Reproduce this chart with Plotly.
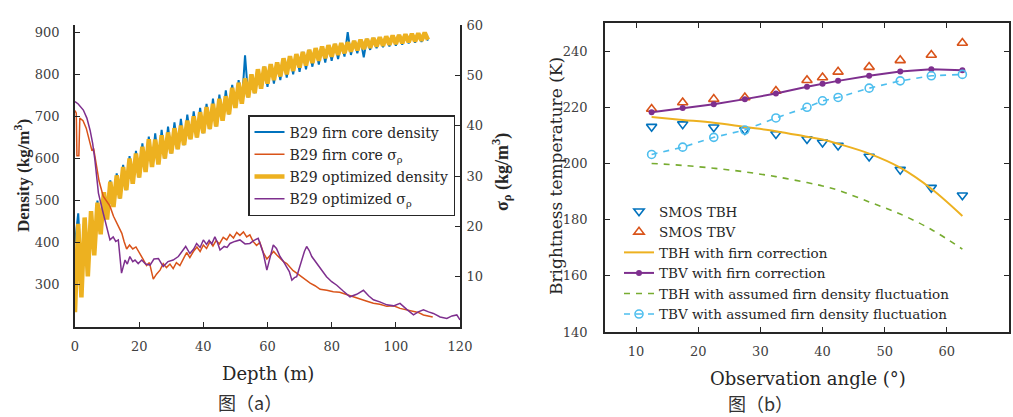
import plotly.graph_objects as go

# ---------------- Panel (a) data ----------------
depth = list(range(0, 111))
core_density = [
    400, 470, 330, 455, 350, 470, 390, 500, 430, 515,
    470, 548, 490, 565, 505, 585, 525, 606, 540, 618,
    555, 636, 568, 652, 580, 660, 588, 668, 600, 676,
    612, 686, 622, 694, 632, 704, 646, 712, 650, 720,
    660, 730, 670, 742, 676, 752, 690, 762, 705, 775,
    720, 786, 730, 845, 745, 800, 755, 812, 766, 818,
    770, 824, 778, 828, 786, 838, 792, 843, 800, 848,
    806, 853, 812, 858, 818, 862, 823, 866, 828, 869,
    832, 872, 836, 874, 842, 900, 846, 879, 850, 882,
    840, 884, 858, 886, 862, 888, 864, 890, 866, 892,
    868, 893, 870, 895, 873, 896, 875, 897, 877, 899, 880,
]
opt_density = [
    235, 445, 270, 460, 320, 475, 370, 495, 420, 520,
    455, 545, 485, 560, 505, 580, 525, 600, 540, 612,
    555, 628, 568, 646, 580, 645, 586, 655, 600, 662,
    612, 672, 622, 678, 632, 690, 646, 700, 650, 710,
    660, 722, 670, 730, 676, 742, 690, 748, 705, 768,
    720, 780, 730, 790, 745, 800, 755, 812, 766, 818,
    778, 824, 786, 828, 795, 838, 800, 843, 808, 848,
    816, 853, 821, 858, 827, 862, 832, 866, 838, 869,
    842, 872, 846, 874, 850, 876, 854, 879, 857, 882,
    860, 884, 863, 886, 866, 888, 868, 890, 870, 892,
    872, 893, 874, 895, 876, 896, 878, 897, 880, 899, 882,
]
core_sigma_depth = [
    0, 0.4, 0.6, 1.2, 1.5, 2.5, 3.5, 4.5, 5.3, 5.8,
    6.5, 7.5, 8.8, 9.8, 10.9, 12, 13, 14, 14.6, 15.3,
    16.1, 17, 18, 19, 20.3, 21.2, 22.3, 23.2, 24.4, 25.4,
    26.5, 27.5, 28.5, 29.6, 30.6, 31.6, 32.7, 33.7, 34.8, 35.8,
    36.9, 38, 39, 40, 41, 42.1, 43, 44, 45, 46.2,
    47.3, 48.3, 49.4, 50.4, 51.4, 52.5, 53.5, 54.5, 55.5, 56.6,
    57.6, 58.7, 59.8, 60.8, 61.9, 62.9, 64, 65, 66, 67,
    68, 69.1, 70.5, 72, 73.3, 74.8, 76.4, 78.5, 80.5, 82.5,
    84.7, 86.7, 88.8, 91, 93, 95, 97.2, 99.3, 101.3, 103.4,
    105.5, 107, 108.6, 110, 111.5,
]
core_sigma = [
    43, 42.5, 34, 34, 41.5, 41, 39.5, 37, 35, 35.5,
    32.5, 29, 26, 25, 24, 22, 20.6, 19.5, 18.6, 17,
    15.5, 16.3, 15.5, 15.9, 14.6, 13.5, 12.2, 12.8, 9.5, 10.5,
    11.3, 12.6, 11.8, 12.5, 11.6, 12.8, 12.2, 13.5, 14.8, 13.8,
    15.0, 15.9, 15.0, 16.3, 15.6, 17.0, 16.1, 17.2, 16.5, 17.8,
    17.3, 18.4, 17.7, 18.8, 18.2, 18.9, 17.9, 18.3, 17.0, 16.2,
    16.8, 14.8, 13.5, 14.2, 15.0, 14.3, 13.6, 13.0, 12.6, 11.8,
    11.2, 10.7, 10.0, 9.2, 8.7, 8.2, 7.5, 7.3, 7.0, 6.9,
    6.4, 6.0, 5.5, 5.1, 4.7, 4.5, 4.1, 4.2, 3.7, 3.4,
    3.0, 2.9, 2.4, 2.2, 2.0,
]
opt_sigma_depth = [
    0, 1, 2.6, 3.7, 4.7, 5.5, 6.2, 7.3, 8.8, 9.9,
    10.9, 11.9, 12.7, 13.5, 14.5, 15.6, 16.3, 17.1, 18, 18.7,
    19.7, 20.8, 22, 23.4, 24.6, 26, 27.5, 29, 30.6, 32.2,
    33.8, 34.5, 35.8, 37, 37.9, 39, 40, 41, 41.8, 42.6,
    43.6, 44.4, 45.2, 46.5, 47.4, 48.3, 49.8, 51.4, 53, 54.5,
    55.8, 57.1, 58, 58.7, 59.8, 60.8, 61.8, 62.8, 63.9, 65,
    66, 66.8, 67.6, 68.4, 69.1, 70.5, 71.5, 72.2, 73, 73.8,
    75.3, 76.8, 78.4, 80, 81.6, 83.5, 85.7, 87.8, 89.9, 91.5,
    93, 95, 97.2, 99.3, 101.3, 103.4, 105.5, 107, 108.6, 110.2,
    111.7, 113.8, 115.9, 117.5, 119, 120,
]
opt_sigma = [
    44.8, 44.3, 43.1, 41.5, 39.1, 36.5, 33.2, 26.6, 22.6, 20,
    17.3, 17.9, 17.0, 17.3, 10.7, 13.3, 12.5, 14, 13.0, 13.3,
    12.6, 13.3, 12.5, 12.3, 13.5, 13.6, 12.0, 13.0, 13.3, 14.0,
    15.3, 16.0, 14.6, 15.5, 16.6, 15.8, 17.3, 16.4, 17.2, 16.5,
    17.9, 16.8, 15.3, 16.0, 15.8, 16.6, 17.0, 17.3, 16.5, 16.6,
    17.2, 17.6, 16.0, 14.6, 11.3, 14.0, 16.3, 15.6, 14.0, 13.0,
    12.0, 11.0, 9.3, 9.8, 10.0, 13.0, 15.0, 16.0, 15.2, 14.0,
    12.7, 11.5, 10.0, 9.0, 8.3, 7.2, 6.0, 6.5, 7.3, 6.2,
    5.4, 5.0, 4.4, 4.2, 4.7, 3.5, 2.4, 3.0, 3.4, 3.0,
    2.7, 2.0, 1.7, 2.2, 2.4, 1.4,
]

# ---------------- Panel (b) data ----------------
angles = [12.5, 17.5, 22.5, 27.5, 32.5, 37.5, 40, 42.5, 47.5, 52.5, 57.5, 62.5]
smos_tbh = [213.1, 214.0, 212.9, 211.9, 210.5, 208.7, 207.5, 206.4, 202.5, 197.8, 191.4, 188.7]
smos_tbv = [219.4, 221.7, 222.9, 223.5, 225.8, 229.6, 230.6, 232.6, 234.3, 236.7, 238.6, 242.9]
tbh_firn = [216.5, 215.5, 214.5, 213.0, 211.5, 209.5, 208.5, 207.0, 203.5, 198.5, 191.0, 181.3]
tbv_firn = [218.2, 219.7, 221.1, 222.9, 224.9, 227.3, 228.4, 229.4, 231.2, 232.7, 233.5, 233.2]
tbh_fluct = [200.0, 199.3, 198.3, 197.0, 195.3, 193.2, 192.0, 190.5, 186.3, 182.0, 176.5, 169.5]
tbv_fluct = [203.2, 205.8, 209.3, 211.9, 216.2, 220.0, 222.3, 223.5, 226.8, 229.4, 231.2, 231.7]

left_yticks = [300, 400, 500, 600, 700, 800, 900]
sigma_ticks = [10, 20, 30, 40, 50, 60]
depth_ticks = [0, 20, 40, 60, 80, 100, 120]
angle_ticks = [10, 20, 30, 40, 50, 60, 70]
tb_ticks = [140, 160, 180, 200, 220, 240]

BLUE = "#0072BD"
ORANGE = "#D95319"
YELLOW = "#EDB120"
PURPLE = "#7E2F8E"
GREEN = "#77AC30"
LBLUE = "#4DBEEE"
SERIF = "Liberation Serif"
WIDE = "DejaVu Serif"
AX = "#262626"

W, H = 1013, 417

fig = go.Figure()

# Panel (a)
fig.add_trace(go.Scatter(x=depth, y=core_density, mode="lines", name="B29 firn core density",
                         line=dict(color=BLUE, width=2), xaxis="x", yaxis="y",
                         legend="legend", legendgroup="a1"))
fig.add_trace(go.Scatter(x=core_sigma_depth, y=core_sigma, mode="lines",
                         name="B29 firn core σ<sub>ρ</sub>",
                         line=dict(color=ORANGE, width=1.5), xaxis="x", yaxis="y2",
                         legend="legend", legendgroup="a2"))
fig.add_trace(go.Scatter(x=depth, y=opt_density, mode="lines", name="B29 optimized density",
                         line=dict(color=YELLOW, width=4.5), xaxis="x", yaxis="y",
                         legend="legend", legendgroup="a3"))
fig.add_trace(go.Scatter(x=opt_sigma_depth, y=opt_sigma, mode="lines",
                         name="B29 optimized σ<sub>ρ</sub>",
                         line=dict(color=PURPLE, width=1.5), xaxis="x", yaxis="y2",
                         legend="legend", legendgroup="a4"))

# Panel (b)
fig.add_trace(go.Scatter(x=angles, y=smos_tbh, mode="markers", name="SMOS TBH",
                         marker=dict(symbol="triangle-down-open", size=9, color=BLUE,
                                     line=dict(width=1.6, color=BLUE)),
                         xaxis="x2", yaxis="y3", legend="legend2"))
fig.add_trace(go.Scatter(x=angles, y=smos_tbv, mode="markers", name="SMOS TBV",
                         marker=dict(symbol="triangle-up-open", size=9, color=ORANGE,
                                     line=dict(width=1.6, color=ORANGE)),
                         xaxis="x2", yaxis="y3", legend="legend2"))
fig.add_trace(go.Scatter(x=angles, y=tbh_firn, mode="lines", name="TBH with firn correction",
                         line=dict(color=YELLOW, width=2, shape="spline"),
                         xaxis="x2", yaxis="y3", legend="legend2"))
fig.add_trace(go.Scatter(x=angles, y=tbv_firn, mode="lines+markers", name="TBV with firn correction",
                         line=dict(color=PURPLE, width=2),
                         marker=dict(symbol="circle", size=6, color=PURPLE),
                         xaxis="x2", yaxis="y3", legend="legend2"))
fig.add_trace(go.Scatter(x=angles, y=tbh_fluct, mode="lines",
                         name="TBH with assumed firn density fluctuation",
                         line=dict(color=GREEN, width=1.6, dash="6px,6px", shape="spline"),
                         xaxis="x2", yaxis="y3", legend="legend2"))
fig.add_trace(go.Scatter(x=angles, y=tbv_fluct, mode="lines+markers",
                         name="TBV with assumed firn density fluctuation",
                         line=dict(color=LBLUE, width=1.6, dash="6px,6px"),
                         marker=dict(symbol="circle-open", size=8, color=LBLUE,
                                     line=dict(width=1.6, color=LBLUE)),
                         xaxis="x2", yaxis="y3", legend="legend2"))

tickfont = dict(family=WIDE, size=13, color="#404040")
common = dict(showgrid=False, zeroline=False, showline=True, linecolor=AX, linewidth=1.6,
              ticks="inside", ticklen=5, tickwidth=1.2, tickcolor=AX, tickfont=tickfont,
              automargin=False)

fig.update_layout(
    width=W, height=H,
    margin=dict(l=0, r=0, t=0, b=0, autoexpand=False),
    paper_bgcolor="white", plot_bgcolor="white",
    hovermode=False,
    xaxis=dict(domain=[75 / W, 460 / W], range=[0, 120], tickvals=depth_ticks,
               anchor="y", ticklabelstandoff=7, **common),
    yaxis=dict(domain=[(H - 327) / H, (H - 25) / H], range=[200, 917], tickvals=left_yticks,
               anchor="x", ticklabelstandoff=11, **common),
    yaxis2=dict(overlaying="y", side="right", anchor="x", range=[0, 60], tickvals=sigma_ticks,
                ticklabelstandoff=2, **common),
    xaxis2=dict(domain=[605 / W, 1009 / W], range=[5, 70], tickvals=angle_ticks,
                anchor="y3", mirror="ticks", ticklabelstandoff=7, **common),
    yaxis3=dict(domain=[(H - 332) / H, (H - 23) / H], range=[140, 250], tickvals=tb_ticks,
                anchor="x2", mirror="ticks", ticklabelstandoff=13, **common),
    legend=dict(x=248 / W, y=(H - 115) / H, xanchor="left", yanchor="top",
                bgcolor="white", bordercolor=AX, borderwidth=1.5,
                font=dict(family=WIDE, size=14, color="#262626"),
                tracegroupgap=1, itemwidth=30),
    legend2=dict(x=619 / W, y=(H - 196) / H, xanchor="left", yanchor="top",
                 bgcolor="rgba(0,0,0,0)", borderwidth=0,
                 font=dict(family=WIDE, size=13.5, color="#262626"),
                 itemwidth=30, tracegroupgap=0),
)

title_font = dict(family=WIDE, size=18, color="#262626")
bold_font = dict(family=SERIF, size=17, color="#262626")
annotations = [
    dict(text="<b>Density (kg/m<sup>3</sup>)</b>", x=22 / W, y=(H - 176) / H, textangle=-90, font=bold_font),
    dict(text="<b>σ<sub>ρ</sub> (kg/m<sup>3</sup>)</b>", x=501 / W, y=(H - 172) / H, textangle=-90,
         font=dict(family=SERIF, size=18, color="#262626")),
    dict(text="Depth (m)", x=268 / W, y=(H - 373) / H, textangle=0, font=title_font),
    dict(text="Brightness temperature (K)", x=556 / W, y=(H - 176) / H, textangle=-90,
         font=dict(family=WIDE, size=17, color="#262626")),
    dict(text="Observation angle (°)", x=808 / W, y=(H - 378) / H, textangle=0, font=title_font),
]
for a in annotations:
    fig.add_annotation(xref="paper", yref="paper", showarrow=False,
                       xanchor="center", yanchor="middle", **a)
cap_font = dict(family="Noto Sans CJK SC", size=18, color="#333333")
fig.add_annotation(text="图（a）", x=250 / W, y=(H - 402) / H, xref="paper", yref="paper",
                   showarrow=False, font=cap_font, xanchor="center", yanchor="middle")
fig.add_annotation(text="图（b）", x=760 / W, y=(H - 403) / H, xref="paper", yref="paper",
                   showarrow=False, font=cap_font, xanchor="center", yanchor="middle")

fig.write_html("out.html", config={"displayModeBar": False},
               post_script="document.body.style.margin='0';")
